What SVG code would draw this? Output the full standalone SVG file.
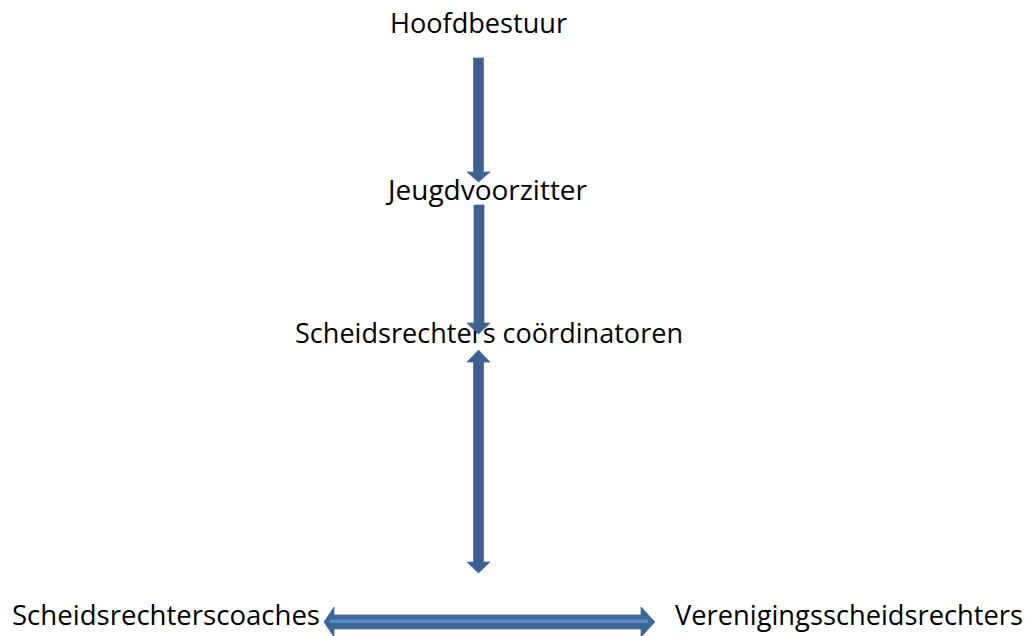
<svg xmlns="http://www.w3.org/2000/svg" width="1032" height="636" viewBox="0 0 1032 636">
<style>
.t{font-family:"Open Sans","Liberation Sans",sans-serif;font-size:28px;fill:#000}
.a{fill:#3c6190;stroke:#4a72a6;stroke-width:0.8}
.h{fill:#3d6596;stroke:#4670a6;stroke-width:0.8}
.s{fill:#5b8bc8}
</style>
<rect width="1032" height="636" fill="#fff"/>
<g id="n-hoofdbestuur"><text class="t" x="390" y="33" textLength="177" lengthAdjust="spacingAndGlyphs">Hoofdbestuur</text></g>
<g id="n-jeugdvoorzitter"><text class="t" x="388" y="200" textLength="199" lengthAdjust="spacingAndGlyphs">Jeugdvoorzitter</text></g>
<g id="n-coordinatoren"><text class="t" x="295" y="343" textLength="388" lengthAdjust="spacingAndGlyphs">Scheidsrechters coördinatoren</text></g>
<g id="n-coaches"><text class="t" x="12" y="625" textLength="308" lengthAdjust="spacingAndGlyphs">Scheidsrechterscoaches</text></g>
<g id="n-verenigings"><text class="t" x="675" y="625" textLength="348" lengthAdjust="spacingAndGlyphs">Verenigingsscheidsrechters</text></g>
<g id="connectors">
<polygon class="a" points="473.5,58 483.5,58 483.5,172 490,172 478.5,182 467,172 473.5,172"/>
<polygon class="a" points="474,205 484,205 484,323 490,323 478.5,334 467,323 474,323"/>
<polygon class="a" points="478.5,350 490,362 483.5,362 483.5,562 490,562 478.5,573 467,562 473.5,562 473.5,362 467,362"/>
<polygon class="h" points="324,622 334,607 334,615 641,615 641,607 655,622 641,637 641,629 334,629 334,637"/>
<rect class="s" x="330" y="619.5" width="318" height="3.5"/>
</g>
</svg>
